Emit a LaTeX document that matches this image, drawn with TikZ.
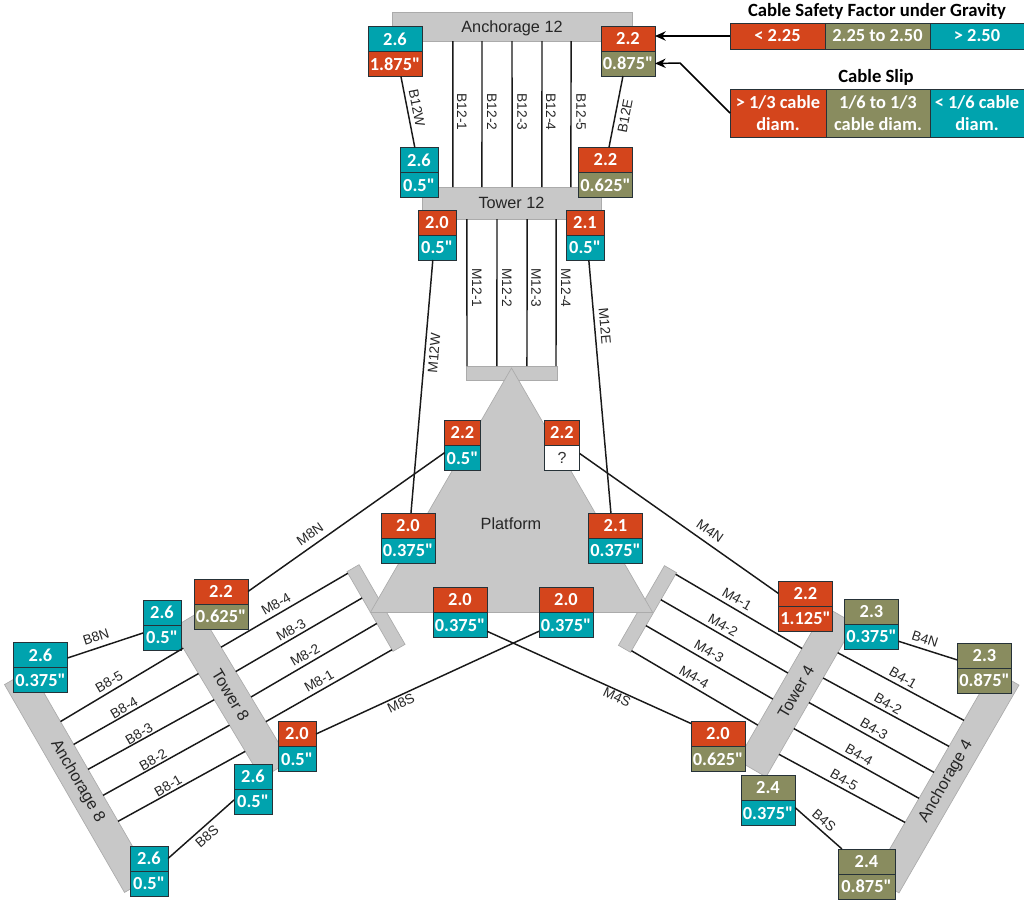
\documentclass[tikz,border=0pt]{standalone}
\usepackage{xcolor}
\usepackage{fontspec}
\setmainfont{Liberation Sans}
\newfontfamily\cellfont{Carlito}
\usepackage{tikz}
\usetikzlibrary{shapes, arrows.meta, positioning, calc}
\definecolor{redc}{HTML}{D4451C}
\definecolor{olivec}{HTML}{898C5F}
\definecolor{tealc}{HTML}{00A3AE}
\definecolor{barc}{HTML}{C8C8C8}
\definecolor{barline}{HTML}{ABABAB}
\definecolor{cellline}{HTML}{263238}

\begin{document}
\begin{tikzpicture}[x=0.75pt, y=-0.75pt,
        every node/.style={font=\fontsize{12.2}{14}\selectfont, text=black!85},
        bar/.style={rectangle, draw=barline, fill=barc, line width=0.5pt, inner sep=0pt, outer sep=0pt},
        cell/.style={rectangle, draw=cellline, line width=0.7pt, inner sep=0pt, outer sep=0pt, minimum height=18.75pt, text=white, font=\cellfont\bfseries\fontsize{13.8}{15}\selectfont},
        redcell/.style={cell, fill=redc},
        olivecell/.style={cell, fill=olivec},
        tealcell/.style={cell, fill=tealc},
        widecell/.style={minimum width=40.5pt},
        slimcell/.style={minimum width=28.5pt},
        tinycell/.style={minimum width=26.5pt},
        legend/.style={rectangle, draw=cellline, line width=0.6pt, inner sep=0pt, outer sep=0pt, align=center, text=white, font=\cellfont\bfseries\fontsize{13.8}{16.7}\selectfont},
        title/.style={text=black, font=\cellfont\bfseries\fontsize{14}{16}\selectfont},
        lbl/.style={font=\fontsize{10.3}{12}\selectfont, inner sep=0pt},
        cable/.style={line width=1.1pt, black!90},
        arr/.style={-{Stealth[length=8pt, width=7pt]}, line width=1.1pt, black}]
        \useasboundingbox (0,0) rectangle (1024,903);

        % anchorages, towers and the platform
        \node[bar, text depth=0pt, minimum width=180pt, minimum height=21.75pt] (anch12) at (512,26.5) {Anchorage 12};
        \node[bar, minimum width=134.25pt, minimum height=24pt] (tower12) at (511.5,203) {Tower 12};
        \node[bar, minimum width=68.25pt, minimum height=10.5pt] (plat12) at (511.5,373) {};
        \node[bar, rotate=-60, minimum width=180pt, minimum height=22.5pt] (anch8) at (77.5,781) {Anchorage 8};
        \node[bar, rotate=-59, minimum width=130.9pt, minimum height=24.75pt] (tower8) at (230.6,695) {Tower 8};
        \node[bar, rotate=-60, minimum width=69pt, minimum height=10.5pt] (plat8) at (376,608) {};
        \node[bar, rotate=60, minimum width=180pt, minimum height=22.5pt] (anch4) at (946,781.5) {Anchorage 4};
        \node[bar, rotate=60, minimum width=132.75pt, minimum height=24.75pt] (tower4) at (796,692) {Tower 4};
        \node[bar, rotate=60, minimum width=69pt, minimum height=10.5pt] (plat4) at (647.5,609) {};
        \node[bar, regular polygon, regular polygon sides=3, minimum size=244.5pt] (platform) at (511.5,531) {};
        \node[inner sep=0pt] (platformname) at (511,524) {Platform};

        % legend
        \node[title] (sftitle) at (877,11) {Cable Safety Factor under Gravity};
        \node[legend, fill=redc, minimum width=71.25pt, minimum height=19.5pt] (sflow) at (777.5,36) {< 2.25};
        \node[legend, fill=olivec, minimum width=78.75pt, minimum height=19.5pt, right=0pt of sflow] (sfmid) {2.25 to 2.50};
        \node[legend, fill=tealc, minimum width=70.5pt, minimum height=19.5pt, right=0pt of sfmid] (sfhigh) {> 2.50};
        \node[title] (sliptitle) at (876,77) {Cable Slip};
        \node[legend, fill=redc, minimum width=72pt, minimum height=36pt] (sliphigh) at (778,113) {> 1/3 cable\\diam.};
        \node[legend, fill=olivec, minimum width=78pt, minimum height=36pt, right=0pt of sliphigh] (slipmid) {1/6 to 1/3\\cable diam.};
        \node[legend, fill=tealc, minimum width=70.5pt, minimum height=36pt, right=0pt of slipmid] (sliplow) {< 1/6 cable\\diam.};
        \coordinate (slipbend) at (680,63);

        % gauges at tower 12 and anchorage 12
        \node[tealcell, widecell] (a12wsf) at (395,39) {2.6};
        \node[redcell, widecell, below=0pt of a12wsf] (a12wslip) {1.875"};
        \node[redcell, widecell] (a12esf) at (628,38.5) {2.2};
        \node[olivecell, widecell, below=0pt of a12esf] (a12eslip) {0.875"};
        \node[tealcell, slimcell] (t12wsf) at (419,160) {2.6};
        \node[tealcell, slimcell, below=0pt of t12wsf] (t12wslip) {0.5"};
        \node[redcell, widecell] (t12esf) at (605.5,160) {2.2};
        \node[olivecell, widecell, below=0pt of t12esf] (t12eslip) {0.625"};
        \node[redcell, slimcell] (m12wsf) at (437,222.5) {2.0};
        \node[tealcell, slimcell, below=0pt of m12wsf] (m12wslip) {0.5"};
        \node[redcell, slimcell] (m12esf) at (585,222.5) {2.1};
        \node[tealcell, slimcell, below=0pt of m12esf] (m12eslip) {0.5"};

        % gauges on the platform
        \node[redcell, tinycell] (pnwsf) at (462.5,433) {2.2};
        \node[tealcell, tinycell, below=0pt of pnwsf] (pnwslip) {0.5"};
        \node[redcell, tinycell] (pnesf) at (562,433) {2.2};
        \node[cell, tinycell, fill=white, text=black!80, font=\fontsize{12}{14}\selectfont, below=0pt of pnesf] (pneslip) {?};
        \node[redcell, widecell] (pwsf) at (408,525.5) {2.0};
        \node[tealcell, widecell, below=0pt of pwsf] (pwslip) {0.375"};
        \node[redcell, widecell] (pesf) at (615.5,525.5) {2.1};
        \node[tealcell, widecell, below=0pt of pesf] (peslip) {0.375"};
        \node[redcell, widecell] (pswsf) at (460,600) {2.0};
        \node[tealcell, widecell, below=0pt of pswsf] (pswslip) {0.375"};
        \node[redcell, widecell] (psesf) at (566,600) {2.0};
        \node[tealcell, widecell, below=0pt of psesf] (pseslip) {0.375"};

        % gauges at tower 8 and anchorage 8
        \node[redcell, widecell] (m8nsf) at (221,591.5) {2.2};
        \node[olivecell, widecell, below=0pt of m8nsf] (m8nslip) {0.625"};
        \node[tealcell, slimcell] (t8nsf) at (162,612.5) {2.6};
        \node[tealcell, slimcell, below=0pt of t8nsf] (t8nslip) {0.5"};
        \node[tealcell, widecell] (a8nsf) at (40.5,655) {2.6};
        \node[tealcell, widecell, below=0pt of a8nsf] (a8nslip) {0.375"};
        \node[redcell, slimcell] (m8ssf) at (297,734) {2.0};
        \node[tealcell, slimcell, below=0pt of m8ssf] (m8sslip) {0.5"};
        \node[tealcell, slimcell] (t8ssf) at (253,776.5) {2.6};
        \node[tealcell, slimcell, below=0pt of t8ssf] (t8sslip) {0.5"};
        \node[tealcell, slimcell] (a8ssf) at (149,858.5) {2.6};
        \node[tealcell, slimcell, below=0pt of a8ssf] (a8sslip) {0.5"};

        % gauges at tower 4 and anchorage 4
        \node[redcell, widecell] (m4nsf) at (805.5,593.5) {2.2};
        \node[redcell, widecell, below=0pt of m4nsf] (m4nslip) {1.125"};
        \node[olivecell, widecell] (t4nsf) at (871.5,611.5) {2.3};
        \node[tealcell, widecell, below=0pt of t4nsf] (t4nslip) {0.375"};
        \node[olivecell, widecell] (a4nsf) at (984.5,655.5) {2.3};
        \node[olivecell, widecell, below=0pt of a4nsf] (a4nslip) {0.875"};
        \node[redcell, widecell] (m4ssf) at (718,734) {2.0};
        \node[olivecell, widecell, below=0pt of m4ssf] (m4sslip) {0.625"};
        \node[olivecell, widecell] (t4ssf) at (768,788) {2.4};
        \node[tealcell, widecell, below=0pt of t4ssf] (t4sslip) {0.375"};
        \node[olivecell, minimum width=42.75pt] (a4ssf) at (866.5,861.5) {2.4};
        \node[olivecell, minimum width=42.75pt, below=0pt of a4ssf] (a4sslip) {0.875"};

        % backstays at tower 12
        \draw[cable] ($(anch12.south west)!.254!(anch12.south east)$) -- ($(tower12.north west)!.173!(tower12.north east)$);
        \draw[cable] ($(anch12.south west)!.375!(anch12.south east)$) -- ($(tower12.north west)!.335!(tower12.north east)$);
        \draw[cable] ($(anch12.south west)!.5!(anch12.south east)$) -- ($(tower12.north west)!.503!(tower12.north east)$);
        \draw[cable] ($(anch12.south west)!.625!(anch12.south east)$) -- ($(tower12.north west)!.67!(tower12.north east)$);
        \draw[cable] ($(anch12.south west)!.746!(anch12.south east)$) -- ($(tower12.north west)!.832!(tower12.north east)$);
        \draw[cable] ($(a12wslip.south west)!.61!(a12wslip.south east)$) -- ($(t12wsf.north west)!.39!(t12wsf.north east)$);
        \draw[cable] ($(a12eslip.south west)!.407!(a12eslip.south east)$) -- ($(t12esf.north west)!.564!(t12esf.north east)$);

        % main cables at tower 12
        \draw[cable] ($(tower12.south west)!.251!(tower12.south east)$) -- ($(plat12.north west)!.011!(plat12.north east)$);
        \draw[cable] ($(tower12.south west)!.419!(tower12.south east)$) -- ($(plat12.north west)!.34!(plat12.north east)$);
        \draw[cable] ($(tower12.south west)!.587!(tower12.south east)$) -- ($(plat12.north west)!.67!(plat12.north east)$);
        \draw[cable] ($(tower12.south west)!.749!(tower12.south east)$) -- ($(plat12.north west)!.989!(plat12.north east)$);
        \draw[cable] ($(m12wslip.south west)!.39!(m12wslip.south east)$) -- ($(pwsf.north west)!.555!(pwsf.north east)$);
        \draw[cable] ($(m12eslip.south west)!.6!(m12eslip.south east)$) -- ($(pesf.north west)!.415!(pesf.north east)$);

        % tower 8
        \draw[cable] ($(anch8.north west)!.25!(anch8.north east)$) -- ($(tower8.south west)!.13!(tower8.south east)$);
        \draw[cable] ($(anch8.north west)!.36!(anch8.north east)$) -- ($(tower8.south west)!.30!(tower8.south east)$);
        \draw[cable] ($(anch8.north west)!.48!(anch8.north east)$) -- ($(tower8.south west)!.475!(tower8.south east)$);
        \draw[cable] ($(anch8.north west)!.605!(anch8.north east)$) -- ($(tower8.south west)!.645!(tower8.south east)$);
        \draw[cable] ($(anch8.north west)!.73!(anch8.north east)$) -- ($(tower8.south west)!.82!(tower8.south east)$);
        \draw[cable] ($(tower8.north west)!.237!(tower8.north east)$) -- ($(plat8.south west)!.02!(plat8.south east)$);
        \draw[cable] ($(tower8.north west)!.40!(tower8.north east)$) -- ($(plat8.south west)!.33!(plat8.south east)$);
        \draw[cable] ($(tower8.north west)!.57!(tower8.north east)$) -- ($(plat8.south west)!.65!(plat8.south east)$);
        \draw[cable] ($(tower8.north west)!.735!(tower8.north east)$) -- ($(plat8.south west)!.98!(plat8.south east)$);
        \draw[cable] ($(pnwslip.north west)!.28!(pnwslip.south west)$) -- (m8nsf.east);
        \draw[cable] ($(pseslip.north west)!.75!(pseslip.south west)$) -- (m8ssf.east);
        \draw[cable] ($(a8nsf.north east)!.62!(a8nsf.south east)$) -- ($(t8nslip.north west)!.32!(t8nslip.south west)$);
        \draw[cable] (a8ssf.east) -- ($(t8sslip.north west)!.44!(t8sslip.south west)$);

        % tower 4
        \draw[cable] ($(anch4.north west)!.758!(anch4.north east)$) -- ($(tower4.south west)!.81!(tower4.south east)$);
        \draw[cable] ($(anch4.north west)!.633!(anch4.north east)$) -- ($(tower4.south west)!.645!(tower4.south east)$);
        \draw[cable] ($(anch4.north west)!.508!(anch4.north east)$) -- ($(tower4.south west)!.485!(tower4.south east)$);
        \draw[cable] ($(anch4.north west)!.383!(anch4.north east)$) -- ($(tower4.south west)!.315!(tower4.south east)$);
        \draw[cable] ($(anch4.north west)!.267!(anch4.north east)$) -- ($(tower4.south west)!.147!(tower4.south east)$);
        \draw[cable] ($(tower4.north west)!.73!(tower4.north east)$) -- ($(plat4.south west)!.98!(plat4.south east)$);
        \draw[cable] ($(tower4.north west)!.57!(tower4.north east)$) -- ($(plat4.south west)!.66!(plat4.south east)$);
        \draw[cable] ($(tower4.north west)!.40!(tower4.north east)$) -- ($(plat4.south west)!.335!(plat4.south east)$);
        \draw[cable] ($(tower4.north west)!.23!(tower4.north east)$) -- ($(plat4.south west)!.02!(plat4.south east)$);
        \draw[cable] ($(pneslip.north east)!.32!(pneslip.south east)$) -- (m4nsf.west);
        \draw[cable] ($(pswslip.north east)!.75!(pswslip.south east)$) -- ($(m4ssf.north west)!.08!(m4ssf.south west)$);
        \draw[cable] ($(t4nslip.north east)!.69!(t4nslip.south east)$) -- ($(a4nsf.north west)!.68!(a4nsf.south west)$);
        \draw[cable] ($(t4sslip.north east)!.28!(t4sslip.south east)$) -- ($(a4ssf.north west)!.07!(a4ssf.north east)$);

        % legend arrows
        \draw[arr] (sflow.west) -- (sflow.west -| a12esf.east);
        \draw[arr] (sliphigh.west) -- (slipbend) -- (a12eslip.east);

        % cable names
        \node[lbl, rotate=-79] (nb12w) at (417,108) {B12W};
        \node[lbl, rotate=-90] (nb121) at (462,112) {B12-1};
        \node[lbl, rotate=-90] (nb122) at (492,112) {B12-2};
        \node[lbl, rotate=-90] (nb123) at (522,112) {B12-3};
        \node[lbl, rotate=-90] (nb124) at (551,112) {B12-4};
        \node[lbl, rotate=-90] (nb125) at (581,112) {B12-5};
        \node[lbl, rotate=79] (nb12e) at (625,116) {B12E};
        \node[lbl, rotate=-90] (nm121) at (477,288) {M12-1};
        \node[lbl, rotate=-90] (nm122) at (507,288) {M12-2};
        \node[lbl, rotate=-90] (nm123) at (536,288) {M12-3};
        \node[lbl, rotate=-90] (nm124) at (566,288) {M12-4};
        \node[lbl, rotate=85] (nm12w) at (434,353) {M12W};
        \node[lbl, rotate=-85] (nm12e) at (605,326) {M12E};
        \node[lbl, rotate=35] (nm8n) at (310,534) {M8N};
        \node[lbl, rotate=-35] (nm4n) at (710,531) {M4N};
        \node[lbl, rotate=25] (nm8s) at (401,703) {M8S};
        \node[lbl, rotate=-25] (nm4s) at (617,697) {M4S};
        \node[lbl, rotate=30] (nm84) at (276,604) {M8-4};
        \node[lbl, rotate=30] (nm83) at (291,630) {M8-3};
        \node[lbl, rotate=30] (nm82) at (305,655) {M8-2};
        \node[lbl, rotate=30] (nm81) at (319,681) {M8-1};
        \node[lbl, rotate=30] (nb85) at (109,682) {B8-5};
        \node[lbl, rotate=30] (nb84) at (124,708) {B8-4};
        \node[lbl, rotate=30] (nb83) at (139,734) {B8-3};
        \node[lbl, rotate=30] (nb82) at (153,760) {B8-2};
        \node[lbl, rotate=30] (nb81) at (168,786) {B8-1};
        \node[lbl, rotate=18] (nb8n) at (96,637) {B8N};
        \node[lbl, rotate=41] (nb8s) at (207,836) {B8S};
        \node[lbl, rotate=-30] (nm41) at (737,599) {M4-1};
        \node[lbl, rotate=-30] (nm42) at (723,625) {M4-2};
        \node[lbl, rotate=-30] (nm43) at (709,651) {M4-3};
        \node[lbl, rotate=-30] (nm44) at (694,677) {M4-4};
        \node[lbl, rotate=-30] (nb41) at (903,678) {B4-1};
        \node[lbl, rotate=-30] (nb42) at (888,704) {B4-2};
        \node[lbl, rotate=-30] (nb43) at (874,729) {B4-3};
        \node[lbl, rotate=-30] (nb44) at (859,755) {B4-4};
        \node[lbl, rotate=-30] (nb45) at (844,780) {B4-5};
        \node[lbl, rotate=-18] (nb4n) at (925,639) {B4N};
        \node[lbl, rotate=-41] (nb4s) at (824,820) {B4S};
    \end{tikzpicture}
\end{document}
